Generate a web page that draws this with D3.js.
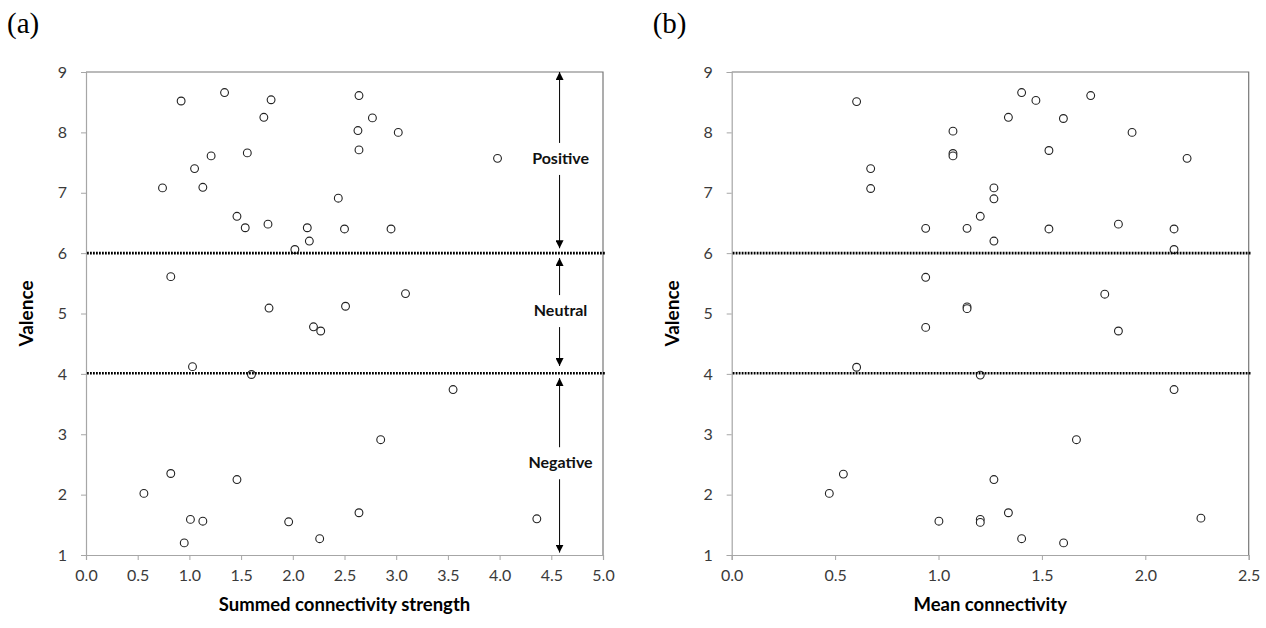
<!DOCTYPE html>
<html>
<head>
<meta charset="utf-8">
<script src="https://cdn.jsdelivr.net/npm/d3@7"></script>
<style>
  body { margin: 0; background: #fff; }
  svg { display: block; }
  .tick text { font-family: Lato, "Open Sans", sans-serif; font-size: 16px; fill: #3a3a3a; }
</style>
</head>
<body>
<svg id="chart" width="1266" height="628"></svg>
<script>
// panel (a): summed connectivity strength vs valence
var strengthX = [0.92, 1.34, 1.72, 1.79, 1.56, 1.21, 1.05, 0.74, 1.13, 1.46, 1.54, 1.76, 2.14, 2.16, 2.02,
                 2.44, 2.50, 2.64, 2.77, 2.63, 3.02, 2.64, 3.98, 2.95, 3.09, 0.82, 1.77, 2.20, 2.27, 2.51,
                 1.03, 1.60, 0.56, 0.82, 1.46, 1.01, 1.13, 0.95, 1.96, 2.26, 2.64, 3.55, 2.85, 4.36];
var strengthY = [8.52, 8.66, 8.25, 8.54, 7.66, 7.61, 7.40, 7.08, 7.09, 6.61, 6.42, 6.48, 6.42, 6.20, 6.06,
                 6.91, 6.40, 8.61, 8.24, 8.03, 8.00, 7.71, 7.57, 6.40, 5.33, 5.61, 5.09, 4.78, 4.71, 5.12,
                 4.12, 3.99, 2.02, 2.35, 2.25, 1.59, 1.56, 1.20, 1.55, 1.27, 1.70, 3.74, 2.91, 1.60];

// panel (b): mean connectivity vs valence
var meanX = [0.604, 0.672, 0.672, 1.070, 1.070, 1.070, 0.938, 1.138, 1.202, 1.268, 1.268, 1.268, 0.938, 1.402, 1.471,
             1.736, 1.338, 1.604, 1.936, 1.534, 2.202, 1.534, 1.870, 2.139, 2.139, 1.804, 1.138, 1.138, 0.938, 0.604,
             1.202, 0.472, 0.540, 1.002, 1.202, 1.202, 1.268, 1.870, 2.139, 1.667, 1.338, 1.402, 1.605, 2.269];
var meanY = [8.51, 7.40, 7.07, 8.02, 7.65, 7.61, 6.41, 6.41, 6.61, 7.08, 6.90, 6.20, 5.60, 8.66, 8.53,
             8.61, 8.25, 8.23, 8.00, 7.70, 7.57, 6.40, 6.48, 6.40, 6.06, 5.32, 5.11, 5.08, 4.77, 4.11,
             3.98, 2.02, 2.34, 1.56, 1.59, 1.54, 2.25, 4.71, 3.74, 2.91, 1.70, 1.27, 1.20, 1.61];

var strengthTicks = [0, 0.5, 1, 1.5, 2, 2.5, 3, 3.5, 4, 4.5, 5];
var meanTicks = [0, 0.5, 1, 1.5, 2, 2.5];
var valenceTicks = [1, 2, 3, 4, 5, 6, 7, 8, 9];
var thresholds = [6, 4.01];

// category arrows on panel (a)
var arrowLabels = ["Positive", "Neutral", "Negative"];
var arrowTop = [9, 5.92, 3.93];
var arrowBottom = [6.08, 4.13, 1.04];
var arrowTextY = [7.56, 5.04, 2.52];
var arrowX = 4.58;

var svg = d3.select("#chart");

function zip(xs, ys) {
    var out = [];
    for (var i = 0; i < xs.length; i++) out.push({x: xs[i], y: ys[i]});
    return out;
}

function drawPanel(opt) {
    var x = d3.scaleLinear().domain([0, opt.xMax]).range([opt.left, opt.right]);
    var y = d3.scaleLinear().domain([1, 9]).range([555, 72]);
    var g = svg.append("g");

    // plot area border top/right
    g.append("path")
        .attr("d", "M" + x(0) + "," + y(9) + "H" + x(opt.xMax) + "V" + y(1))
        .attr("fill", "none")
        .attr("stroke", "#777")
        .attr("stroke-width", 1.2);

    var xAxis = g.append("g")
        .attr("transform", "translate(0," + y(1) + ")")
        .call(d3.axisBottom(x).tickValues(opt.ticks).tickFormat(d3.format(".1f")).tickSize(5).tickPadding(10));
    var yAxis = g.append("g")
        .attr("transform", "translate(" + x(0) + ",0)")
        .call(d3.axisLeft(y).tickValues(valenceTicks).tickFormat(d3.format("d")).tickSize(5).tickPadding(14));
    [xAxis, yAxis].forEach(function(a) {
        a.select(".domain").attr("stroke", "#a6a6a6").attr("stroke-width", 1.2);
        a.selectAll(".tick line").attr("stroke", "#a6a6a6");
    });

    g.append("g")
        .selectAll("circle")
        .data(zip(opt.xs, opt.ys))
        .enter().append("circle")
        .attr("cx", function(d) { return x(d.x); })
        .attr("cy", function(d) { return y(d.y); })
        .attr("r", 3.9)
        .attr("fill", "#fff")
        .attr("stroke", "#222")
        .attr("stroke-width", 1.1);

    // dotted category thresholds (drawn over the points)
    g.selectAll("line.thr")
        .data(thresholds)
        .enter().append("line")
        .attr("class", "thr")
        .attr("x1", x(0) + 1)
        .attr("x2", x(opt.xMax) + 2)
        .attr("y1", function(d) { return y(d); })
        .attr("y2", function(d) { return y(d); })
        .attr("stroke", "#000")
        .attr("stroke-width", 2.6)
        .attr("stroke-dasharray", "1.8,1.2");

    // axis titles
    g.append("text")
        .attr("x", (opt.left + opt.right) / 2)
        .attr("y", 611)
        .attr("text-anchor", "middle")
        .style("font-family", "Lato, 'Open Sans', sans-serif")
        .style("font-weight", "bold")
        .style("font-size", "18.5px")
        .text(opt.xTitle);
    g.append("text")
        .attr("transform", "translate(" + (opt.left - 53) + "," + (y(5)) + ") rotate(-90)")
        .attr("text-anchor", "middle")
        .style("font-family", "Lato, 'Open Sans', sans-serif")
        .style("font-weight", "bold")
        .style("font-size", "19px")
        .text("Valence");

    // panel letter
    g.append("text")
        .attr("x", opt.left - 79)
        .attr("y", 33)
        .style("font-family", "'Liberation Serif', 'DejaVu Serif', serif")
        .style("font-size", "29px")
        .text(opt.letter);

    return {g: g, x: x, y: y};
}

var a = drawPanel({left: 86, right: 603, xMax: 5, ticks: strengthTicks,
    xs: strengthX, ys: strengthY, xTitle: "Summed connectivity strength", letter: "(a)"});
drawPanel({left: 731.7, right: 1248.7, xMax: 2.5, ticks: meanTicks,
    xs: meanX, ys: meanY, xTitle: "Mean connectivity", letter: "(b)"});

// arrows with labels in panel (a)
var ax = a.x(arrowX);
var defs = svg.append("defs");
defs.append("marker")
    .attr("id", "head")
    .attr("viewBox", "0 0 10 10")
    .attr("refX", 10).attr("refY", 5)
    .attr("markerWidth", 8).attr("markerHeight", 8)
    .attr("markerUnits", "userSpaceOnUse")
    .attr("orient", "auto")
    .append("path")
    .attr("d", "M0,0L10,5L0,10Z")
    .attr("fill", "#000");

arrowLabels.forEach(function(lbl, i) {
    var ty = a.y(arrowTextY[i]);
    a.g.append("line")
        .attr("x1", ax).attr("x2", ax)
        .attr("y1", ty - 16).attr("y2", a.y(arrowTop[i]))
        .attr("stroke", "#000").attr("stroke-width", 1)
        .attr("marker-end", "url(#head)");
    a.g.append("line")
        .attr("x1", ax).attr("x2", ax)
        .attr("y1", ty + 16).attr("y2", a.y(arrowBottom[i]))
        .attr("stroke", "#000").attr("stroke-width", 1)
        .attr("marker-end", "url(#head)");
    a.g.append("text")
        .attr("x", ax + 1)
        .attr("y", ty + 5)
        .attr("text-anchor", "middle")
        .style("font-family", "Lato, 'Open Sans', sans-serif")
        .style("font-weight", "bold")
        .style("font-size", "16px")
        .style("fill", "#111")
        .text(lbl);
});
</script>
</body>
</html>
